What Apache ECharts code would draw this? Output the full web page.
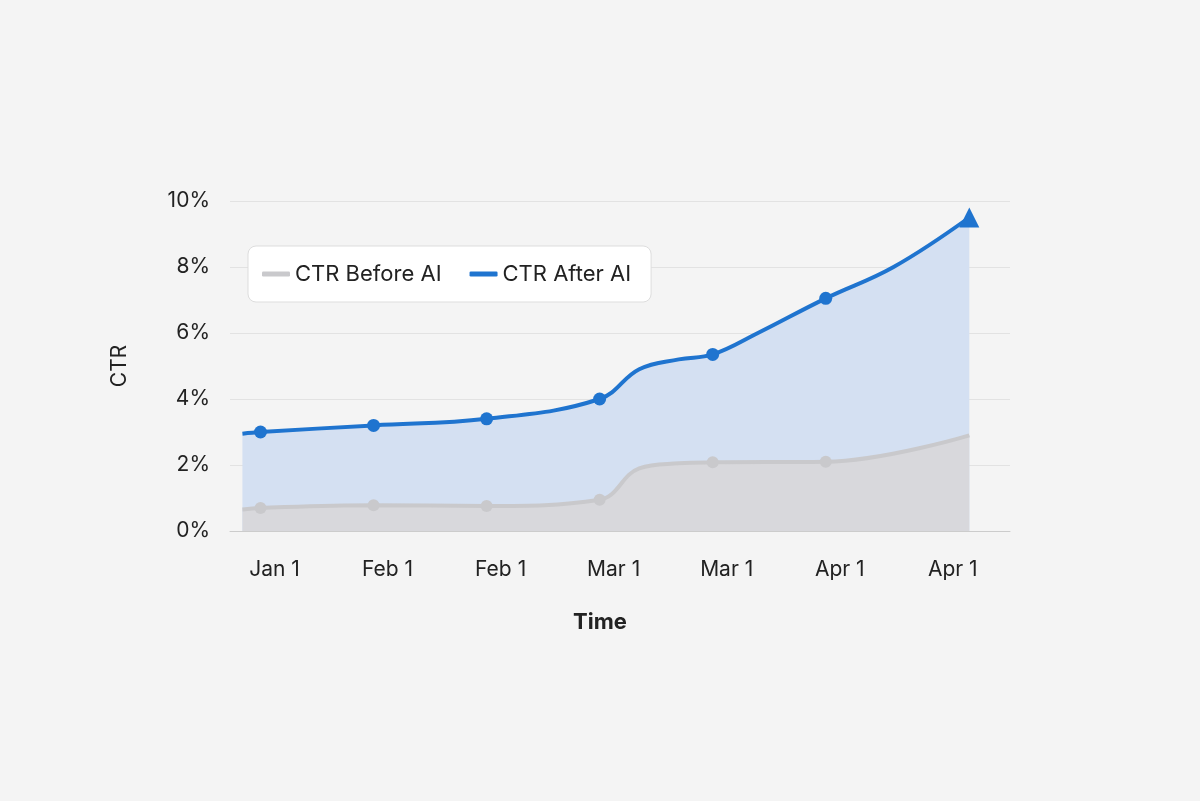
<!DOCTYPE html>
<html><head><meta charset="utf-8">
<script src="https://cdn.jsdelivr.net/npm/echarts@6/dist/echarts.min.js"></script>
<style>html,body{margin:0;background:#f4f4f4}#c{width:1200px;height:801px}</style>
</head><body><div id="c"></div>
<script>
const tickLabels = ['Jan 1','Feb 1','Feb 1','Mar 1','Mar 1','Apr 1','Apr 1'];
const afterX = [-0.16, 0, 1, 2, 3, 3.35, 3.7, 4, 4.4, 5, 5.6, 6.27];
const afterY = [2.95, 3.0, 3.2, 3.4, 4.0, 4.9, 5.2, 5.35, 6.0, 7.05, 8.0, 9.5];
const afterMarked = [false,true,true,true,true,false,false,true,false,true,false,true];
const beforeX = [-0.16, 0, 1, 2, 3, 3.35, 3.7, 4, 5, 6.27];
const beforeY = [0.65, 0.7, 0.78, 0.76, 0.95, 1.9, 2.05, 2.08, 2.1, 2.9];
const beforeMarked = [false,true,true,true,true,false,false,true,true,false];

function build(xs, ys, marks, last){
  return xs.map((x,i)=>{
    const item = {value:[x, ys[i]]};
    if (last && i === xs.length-1) { item.symbol='triangle'; item.symbolSize=20; }
    else if (!marks[i]) item.symbol='none';
    return item;
  });
}
const chart = echarts.init(document.getElementById('c'));
chart.setOption({
  backgroundColor:'#f4f4f4',
  textStyle:{fontFamily:'Inter, Roboto, sans-serif'},
  grid:{left:230,right:190,top:201,bottom:270},
  legend:{left:248,top:246,padding:[17,20,17,14],backgroundColor:'#fff',borderColor:'#ddd',borderWidth:1,borderRadius:8,
    itemWidth:28,itemHeight:5,itemGap:28,textStyle:{fontSize:22,color:'#222'},icon:'roundRect',
    data:['CTR Before AI','CTR After AI']},
  xAxis:{type:'value',min:-0.27,max:6.63,interval:1,
    name:'Time',nameLocation:'middle',nameGap:80,nameTextStyle:{fontSize:22,fontWeight:'bold',color:'#222',padding:[0,0,0,-40]},
    axisLine:{show:true,lineStyle:{color:'#ccc'}},axisTick:{show:false},splitLine:{show:false},
    axisLabel:{fontSize:21,color:'#222',margin:28,padding:[0,0,0,28],
      customValues:[0,1,2,3,4,5,6],formatter:v=>tickLabels[Math.round(v)]}},
  yAxis:{type:'value',min:0,max:10,interval:2,
    name:'CTR',nameLocation:'middle',nameGap:100,nameTextStyle:{fontSize:21,color:'#222'},
    axisLine:{show:false},axisTick:{show:false},
    axisLabel:{fontSize:21,color:'#222',margin:20,formatter:'{value}%'},
    splitLine:{lineStyle:{color:'#e2e2e2'}}},
  series:[
    {name:'CTR After AI',type:'line',smooth:0.4,data:build(afterX,afterY,afterMarked,true),
     symbol:'circle',symbolSize:13,showAllSymbol:true,color:'#1f74cf',
     lineStyle:{width:4,color:'#1f74cf'},itemStyle:{color:'#1f74cf'},
     areaStyle:{color:'#d4e0f2',opacity:1},z:2},
    {name:'CTR Before AI',type:'line',smooth:0.4,data:build(beforeX,beforeY,beforeMarked,false),
     symbol:'circle',symbolSize:12,showAllSymbol:true,color:'#c9c9cc',
     lineStyle:{width:4,color:'#c9c9cc'},itemStyle:{color:'#c9c9cc'},
     areaStyle:{color:'#d8d8dc',opacity:1},z:3}
  ]
});
</script></body></html>
